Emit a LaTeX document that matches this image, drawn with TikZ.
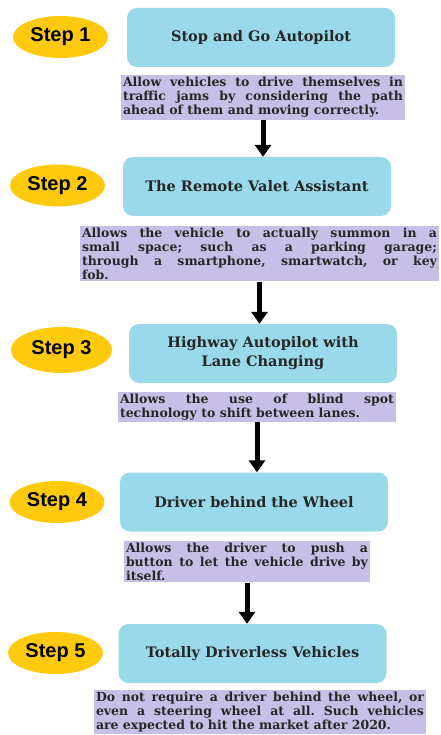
\documentclass[tikz,border=0pt]{standalone}
\usepackage{fontspec}
\setmainfont{DejaVu Serif}
\newfontfamily\stepfont{Liberation Sans}
\usetikzlibrary{shapes.geometric,arrows.meta}

\definecolor{stepgold}{RGB}{255,201,14}
\definecolor{boxblue}{RGB}{153,217,234}
\definecolor{desclilac}{RGB}{200,191,231}
\hyphenpenalty=10000
\frenchspacing

\begin{document}
\begin{tikzpicture}[x=1pt, y=-1pt,
  stepoval/.style={ellipse, fill=stepgold, minimum width=95pt, minimum height=42pt, inner sep=0pt, font=\stepfont\bfseries\fontsize{20}{22}\selectfont},
  titlebox/.style={rounded corners=10pt, fill=boxblue, minimum width=268pt, minimum height=59pt, inner sep=2pt, align=center, font=\bfseries\fontsize{14.5}{19}\selectfont, text=black!85},
  descbox/.style={fill=desclilac, inner sep=2pt, align=justify, font=\bfseries\fontsize{12.5}{14}\selectfont, text=black!85},
  flowarrow/.style={line width=5pt, -{Triangle[length=12pt, width=16pt]}}]
 \useasboundingbox (0,0) rectangle (440,735);

 \draw (60.5, 37) node[stepoval] (step1) {Step 1};
 \draw (57.5, 185.5) node[stepoval] (step2) {Step 2};
 \draw (61.5, 350) node[stepoval, minimum width=101pt, minimum height=46pt] (step3) {Step 3};
 \draw (57, 502) node[stepoval] (step4) {Step 4};
 \draw (55.5, 653) node[stepoval] (step5) {Step 5};

 \draw (261, 37.5) node[titlebox] (box1) {Stop and Go Autopilot};
 \draw (257, 186.5) node[titlebox] (box2) {The Remote Valet Assistant};
 \draw (263, 353.5) node[titlebox] (box3) {Highway Autopilot with\\Lane Changing};
 \draw (254, 502) node[titlebox] (box4) {Driver behind the Wheel};
 \draw (252.5, 653.5) node[titlebox] (box5) {Totally Driverless Vehicles};

 \draw (263, 97.5) node[descbox, text width=280pt] (desc1) {Allow vehicles to drive themselves in\linebreak traffic jams by considering the path\linebreak ahead of them and moving correctly.};
 \draw (259.5, 253.5) node[descbox, text width=355pt] (desc2) {Allows the vehicle to actually summon in a\linebreak small space; such as a parking garage;\linebreak through a smartphone, smartwatch, or key\linebreak fob.};
 \draw (257, 407) node[descbox, text width=274pt] (desc3) {Allows the use of blind spot\linebreak technology to shift between lanes.};
 \draw (247, 561.5) node[descbox, text width=242pt] (desc4) {Allows the driver to push a\linebreak button to let the vehicle drive by\linebreak itself.};
 \draw (260, 712) node[descbox, text width=328pt] (desc5) {Do not require a driver behind the wheel, or\linebreak even a steering wheel at all. Such vehicles\linebreak are expected to hit the market after 2020.};

 \draw[flowarrow] (desc1.south) -- (desc1.south |- box2.north);
 \draw[flowarrow] (desc2.south) -- (desc2.south |- box3.north);
 \draw[flowarrow] (desc3.south) -- (desc3.south |- box4.north);
 \draw[flowarrow] (desc4.south) -- (desc4.south |- box5.north);
\end{tikzpicture}
\end{document}
